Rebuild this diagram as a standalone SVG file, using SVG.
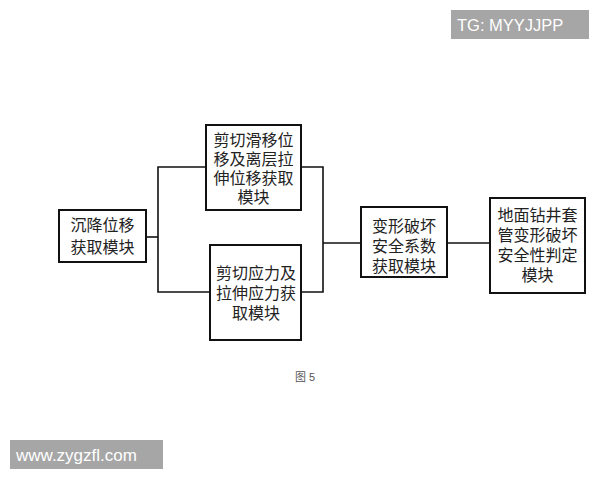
<svg xmlns="http://www.w3.org/2000/svg" width="600" height="480" viewBox="0 0 600 480">
<style>
.box{fill:#fff;stroke:#111;stroke-width:2}
.t{font-family:"Liberation Sans","Noto Sans CJK SC",sans-serif;font-size:16px;fill:#222;text-anchor:middle}
.ln{fill:none;stroke:#111;stroke-width:1.6}
.wm{fill:#a6a6a6}
.wt{font-family:"Liberation Sans",Arial,sans-serif;fill:#fff}
</style>
<rect width="600" height="480" fill="#fff"/>
<g id="connectors">
<polyline class="ln" points="146,237 158,237"/>
<polyline class="ln" points="206,167 158,167 158,292 210,292"/>
<polyline class="ln" points="301,167 323,167 323,292 301,292"/>
<polyline class="ln" points="323,243 361,243"/>
<polyline class="ln" points="447,243 490,243"/>
</g>
<g id="n1"><rect class="box" x="59" y="210" width="87" height="52"/>
<text class="t"><tspan x="102.5" y="231">沉降位移</tspan><tspan x="102.5" y="253">获取模块</tspan></text></g>
<g id="n2"><rect class="box" x="206" y="125" width="95" height="85"/>
<text class="t"><tspan x="253.5" y="146">剪切滑移位</tspan><tspan x="253.5" y="165">移及离层拉</tspan><tspan x="253.5" y="184">伸位移获取</tspan><tspan x="253.5" y="203">模块</tspan></text></g>
<g id="n3"><rect class="box" x="210" y="245" width="91" height="95"/>
<text class="t"><tspan x="256" y="279">剪切应力及</tspan><tspan x="256" y="299">拉伸应力获</tspan><tspan x="256" y="319">取模块</tspan></text></g>
<g id="n4"><rect class="box" x="361" y="207" width="86" height="70"/>
<text class="t"><tspan x="404" y="232">变形破坏</tspan><tspan x="404" y="252">安全系数</tspan><tspan x="404" y="272">获取模块</tspan></text></g>
<g id="n5"><rect class="box" x="490" y="198" width="95" height="95"/>
<text class="t"><tspan x="537.5" y="221">地面钻井套</tspan><tspan x="537.5" y="241">管变形破坏</tspan><tspan x="537.5" y="261">安全性判定</tspan><tspan x="537.5" y="281">模块</tspan></text></g>
<text x="305" y="381" font-family="'Liberation Sans','Noto Sans CJK SC',sans-serif" font-size="11" fill="#555" text-anchor="middle">图 5</text>
<rect class="wm" x="451" y="10" width="138" height="29"/>
<text class="wt" x="457" y="31" font-size="16.5">TG: MYYJJPP</text>
<rect class="wm" x="10" y="440" width="153" height="29"/>
<text class="wt" x="16" y="461" font-size="17">www.zygzfl.com</text>
</svg>
